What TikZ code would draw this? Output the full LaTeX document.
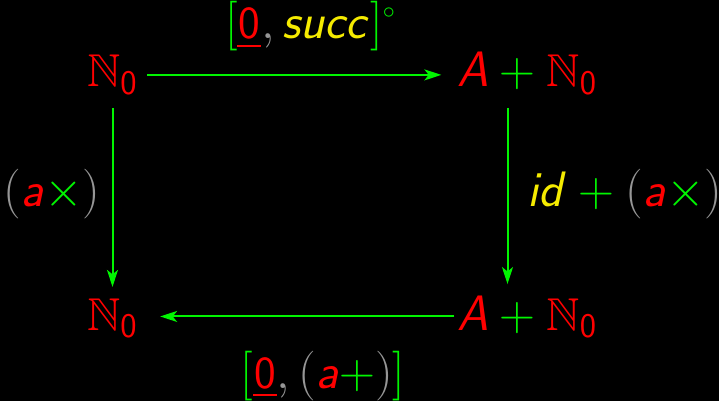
\documentclass[tikz,border=0pt]{standalone}
\usepackage{amsmath,amssymb}
\usepackage{xcolor}
\usepackage{tikz}
\usetikzlibrary{arrows.meta,positioning}
\DeclareMathAlphabet{\mathsfit}{OT1}{cmss}{m}{sl}
\definecolor{catred}{RGB}{255,0,0}
\definecolor{catgreen}{RGB}{0,245,0}
\definecolor{catyellow}{RGB}{245,235,0}
\definecolor{catgray}{RGB}{150,150,150}
\newcommand{\natz}{{\color{catred}\mathbb{N}_{\mathsf{0}}}}
\newcommand{\aplusn}{{\color{catred}\mathsfit{A}}\mathbin{\color{catgreen}+}\natz}
\newcommand{\zerou}{{\color{catred}\vtop{\hbox{\kern0.5pt\textsf{0}\kern0.5pt}\kern2.6pt\hrule height 1pt}}}
\newcommand{\ava}{{\color{catred}\mathsfit{a}}}
\newcommand{\lp}{{\color{catgray}(}}
\newcommand{\rp}{{\color{catgray})}}
\newcommand{\cm}{{\color{catgray},}}
\newcommand{\lb}{{\color{catgreen}[}}
\newcommand{\rb}{{\color{catgreen}]}}
\newcommand{\conv}{{\color{catgreen}\raisebox{0.45em}{$\scriptscriptstyle\circ$}}}

\begin{document}
\begin{tikzpicture}[x=0.5pt,y=-0.5pt,
    obj/.style={inner sep=0pt,anchor=base,font=\fontsize{23}{28}\selectfont},
    lbl/.style={inner sep=0pt,anchor=base,font=\fontsize{23}{28}\selectfont},
    arr/.style={catgreen,line width=1pt,-{Stealth[length=8.5pt,width=5.5pt,inset=2.2pt]}}]
  % background
  \fill[black] (0,0) rectangle (719,401);
  \useasboundingbox (0,0) rectangle (719,401);
  % objects
  \node[obj] (tl) at (112.5,87) {$\natz$};
  \node[obj] (tr) at (527.5,87) {$\aplusn$};
  \node[obj] (bl) at (112.5,330) {$\natz$};
  \node[obj] (br) at (527.5,330) {$\aplusn$};
  % arrows
  \draw[arr,shorten <=4.5pt,shorten >=8pt] (tl.east) -- (tl.east -| tr.west);
  \draw[arr,shorten <=6.5pt,shorten >=5.5pt] (tl.south) -- (bl.north);
  \draw[arr,shorten <=6.5pt,shorten >=5.5pt] ([xshift=-10pt]tr.south) -- ([xshift=-10pt]br.north);
  \draw[arr,shorten <=1.5pt,shorten >=11pt] (br.west) -- (br.west -| bl.east);
  % labels
  \node[lbl] (top) at (310,39) {$\lb\zerou\cm\,{\color{catyellow}\mathsfit{succ}}\rb\conv$};
  \node[lbl] (left) at (52,207) {$\lp\ava{\color{catgreen}\times}\rp$};
  \node[lbl] (right) at (625,207) {${\color{catyellow}\mathsfit{id}}\mathbin{\color{catgreen}+}\lp\ava{\color{catgreen}\times}\rp$};
  \node[lbl] (bot) at (323,388) {$\lb\zerou\cm\,\lp\ava{\color{catgreen}+}\rp\rb$};
\end{tikzpicture}
\end{document}
